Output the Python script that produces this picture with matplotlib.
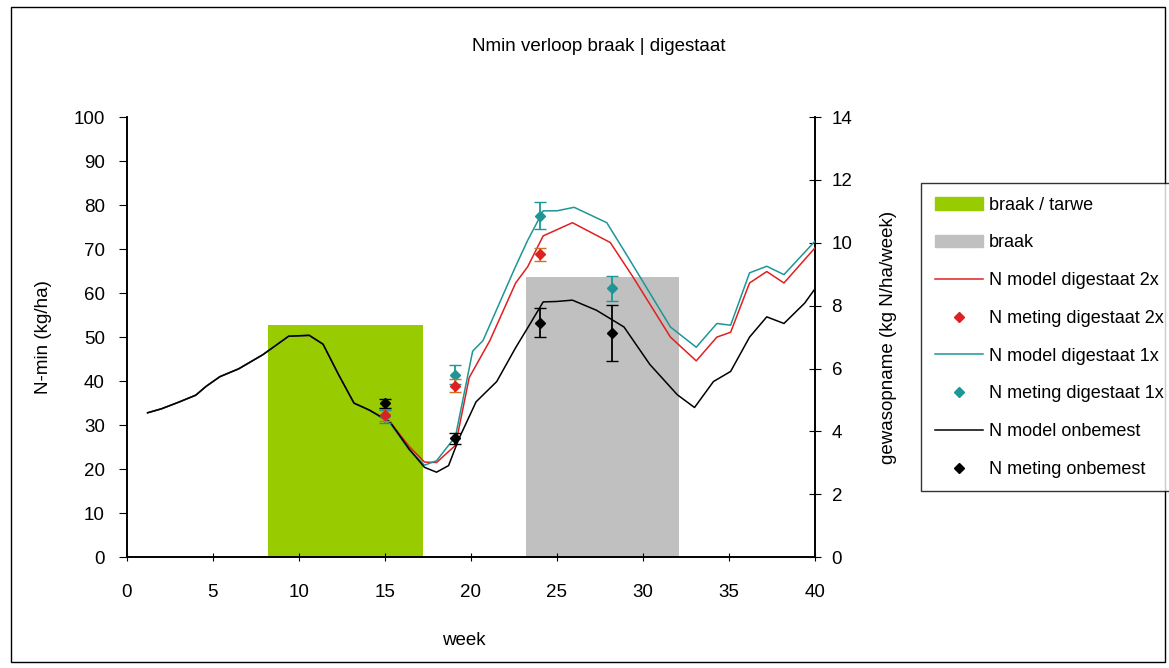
import matplotlib.pyplot as plt
from matplotlib.patches import Rectangle
from matplotlib.lines import Line2D
from matplotlib.patches import Patch

plt.rcParams['font.family'] = ['Liberation Sans', 'DejaVu Sans']

# crop periods (right axis, kg N/ha/week)
period_start = [8.2, 23.2]
period_end = [17.2, 32.1]
period_height = [7.4, 8.9]
period_labels = ['braak / tarwe', 'braak']
period_colors = ['#99cc00', '#c0c0c0']

# model lines (week, N-min kg/ha)
wk_onb = [1.2, 2.0, 3.0, 4.0, 4.6, 5.4, 6.5, 7.9, 9.4, 10.6, 11.4, 12.3, 13.2, 14.1,
          15.3, 16.4, 17.3, 18.0, 18.7, 19.3, 20.3, 21.5, 22.6, 23.5, 24.2, 25.0, 25.9,
          27.3, 28.9, 30.4, 32.0, 33.0, 34.1, 35.1, 36.2, 37.2, 38.2, 39.4, 40.1]
n_onb = [32.8, 33.7, 35.2, 36.8, 38.8, 41.0, 42.8, 46.0, 50.2, 50.4, 48.4, 41.5, 35.0, 33.4,
         30.7, 24.6, 20.4, 19.3, 20.8, 26.9, 35.3, 39.9, 47.6, 53.4, 58.0, 58.1, 58.4,
         56.1, 52.3, 43.8, 36.9, 34.0, 39.9, 42.2, 50.0, 54.6, 53.1, 57.7, 61.5]

wk_2x = [1.2, 2.0, 3.0, 4.0, 4.6, 5.4, 6.5, 7.9, 9.4, 10.6, 11.4, 12.3, 13.2, 14.1,
         15.3, 16.4, 17.3, 18.0, 19.1, 19.9, 21.1, 22.6, 23.3, 24.2, 25.9, 28.1, 29.4,
         31.6, 33.1, 34.3, 35.1, 36.2, 37.2, 38.2, 40.1]
n_2x = [32.8, 33.7, 35.2, 36.8, 38.8, 41.0, 42.8, 46.0, 50.2, 50.4, 48.4, 41.5, 35.0, 33.4,
        30.7, 25.2, 21.6, 21.5, 25.4, 40.8, 49.2, 62.3, 66.0, 73.0, 76.0, 71.5, 63.8,
        50.0, 44.6, 50.0, 51.1, 62.3, 64.9, 62.3, 70.7]

wk_1x = [1.2, 2.0, 3.0, 4.0, 4.6, 5.4, 6.5, 7.9, 9.4, 10.6, 11.4, 12.3, 13.2, 14.1,
         15.3, 16.4, 17.3, 18.0, 19.1, 20.1, 20.7, 22.6, 23.3, 24.2, 25.0, 26.0, 27.9,
         29.1, 31.6, 33.1, 34.3, 35.1, 36.2, 37.2, 38.2, 40.1]
n_1x = [32.8, 33.7, 35.2, 36.8, 38.8, 41.0, 42.8, 46.0, 50.2, 50.4, 48.4, 41.5, 35.0, 33.4,
        30.4, 24.4, 20.9, 21.9, 27.4, 46.8, 49.2, 66.1, 72.0, 78.7, 78.7, 79.5, 76.0,
        68.4, 52.3, 47.7, 53.1, 52.7, 64.6, 66.1, 64.2, 72.2]

# measurements
meas_wk_2x = [15, 19.1, 24]
meas_2x = [32.4, 39.0, 68.8]
err_2x = [1.5, 1.5, 1.4]
meas_wk_1x = [15, 19.1, 24, 28.2]
meas_1x = [32.0, 41.5, 77.6, 61.1]
err_1x = [1.5, 2.2, 3.0, 2.8]
meas_wk_onb = [15, 19.1, 24, 28.2]
meas_onb = [35.0, 27.0, 53.3, 50.9]
err_onb = [1.0, 1.2, 3.3, 6.4]

c_red = '#e02020'
c_teal = '#1e9696'

fs = 13.5

fig = plt.figure(figsize=(11.69, 6.68), dpi=100)
ax = fig.add_axes([0.1086, 0.166, 0.5885, 0.6587])
ax2 = ax.twinx()
ax.set_zorder(2)
ax.patch.set_visible(False)

for s, e, h, c in zip(period_start, period_end, period_height, period_colors):
    ax2.bar(s, h, width=e - s, align='edge', color=c, zorder=1)

ax.plot(wk_2x, n_2x, color=c_red, lw=1.1, zorder=3)
ax.plot(wk_1x, n_1x, color=c_teal, lw=1.1, zorder=3)
ax.plot(wk_onb, n_onb, color='black', lw=1.1, zorder=4)

ax.errorbar(meas_wk_1x, meas_1x, yerr=err_1x, fmt='D', color=c_teal, ms=5,
            capsize=4, elinewidth=1.3, zorder=5)
ax.errorbar(meas_wk_2x, meas_2x, yerr=err_2x, fmt='D', color=c_red, ms=5,
            ecolor='#d07020', capsize=4, elinewidth=1.3, zorder=6)
ax.errorbar(meas_wk_onb, meas_onb, yerr=err_onb, fmt='D', color='black', ms=5,
            capsize=4, elinewidth=1.3, zorder=7)

ax.set_xlim(0, 40)
ax.set_ylim(0, 100)
ax2.set_ylim(0, 14)
ax.set_xticks(range(0, 41, 5))
ax.set_yticks(range(0, 101, 10))
ax2.set_yticks(range(0, 15, 2))
ax.tick_params(axis='y', labelsize=fs, direction='out', length=6, pad=10)
ax.tick_params(axis='x', labelsize=fs, direction='inout', length=6, pad=16)
ax2.tick_params(labelsize=fs, direction='inout', length=8, pad=8)
for a in (ax, ax2):
    a.spines['top'].set_visible(False)
    for sp in a.spines.values():
        sp.set_linewidth(1.2)
ax.set_xlabel('week', fontsize=fs)
ax.set_ylabel('N-min (kg/ha)', fontsize=fs)
ax2.set_ylabel('gewasopname (kg N/ha/week)', fontsize=fs)
ax.xaxis.set_label_coords(0.49, -0.17)
ax.yaxis.set_label_coords(-0.109, 0.5)
ax2.yaxis.set_label_coords(1.094, 0.5)

fig.text(0.512, 0.93, 'Nmin verloop braak | digestaat', ha='center', va='center', fontsize=fs)

handles = [
    Patch(color=period_colors[0]),
    Patch(color=period_colors[1]),
    Line2D([], [], color=c_red, lw=1.1),
    Line2D([], [], color=c_red, marker='D', ls='none', ms=5),
    Line2D([], [], color=c_teal, lw=1.1),
    Line2D([], [], color=c_teal, marker='D', ls='none', ms=5),
    Line2D([], [], color='black', lw=1.1),
    Line2D([], [], color='black', marker='D', ls='none', ms=5),
]
labels = period_labels + ['N model digestaat 2x', 'N meting digestaat 2x',
                          'N model digestaat 1x', 'N meting digestaat 1x',
                          'N model onbemest', 'N meting onbemest']
leg = fig.legend(handles, labels, loc='upper left', bbox_to_anchor=(0.788, 0.726),
                 fontsize=13, frameon=True, fancybox=False, edgecolor='black',
                 handlelength=2.7, handletextpad=0.3, labelspacing=1.15,
                 borderpad=0.75, borderaxespad=0)
leg.get_frame().set_linewidth(1.0)

fig.patches.append(Rectangle((0.009, 0.009), 0.988, 0.98, transform=fig.transFigure,
                             fill=False, edgecolor='black', lw=1.0))

fig.savefig('out.png', dpi=100)
